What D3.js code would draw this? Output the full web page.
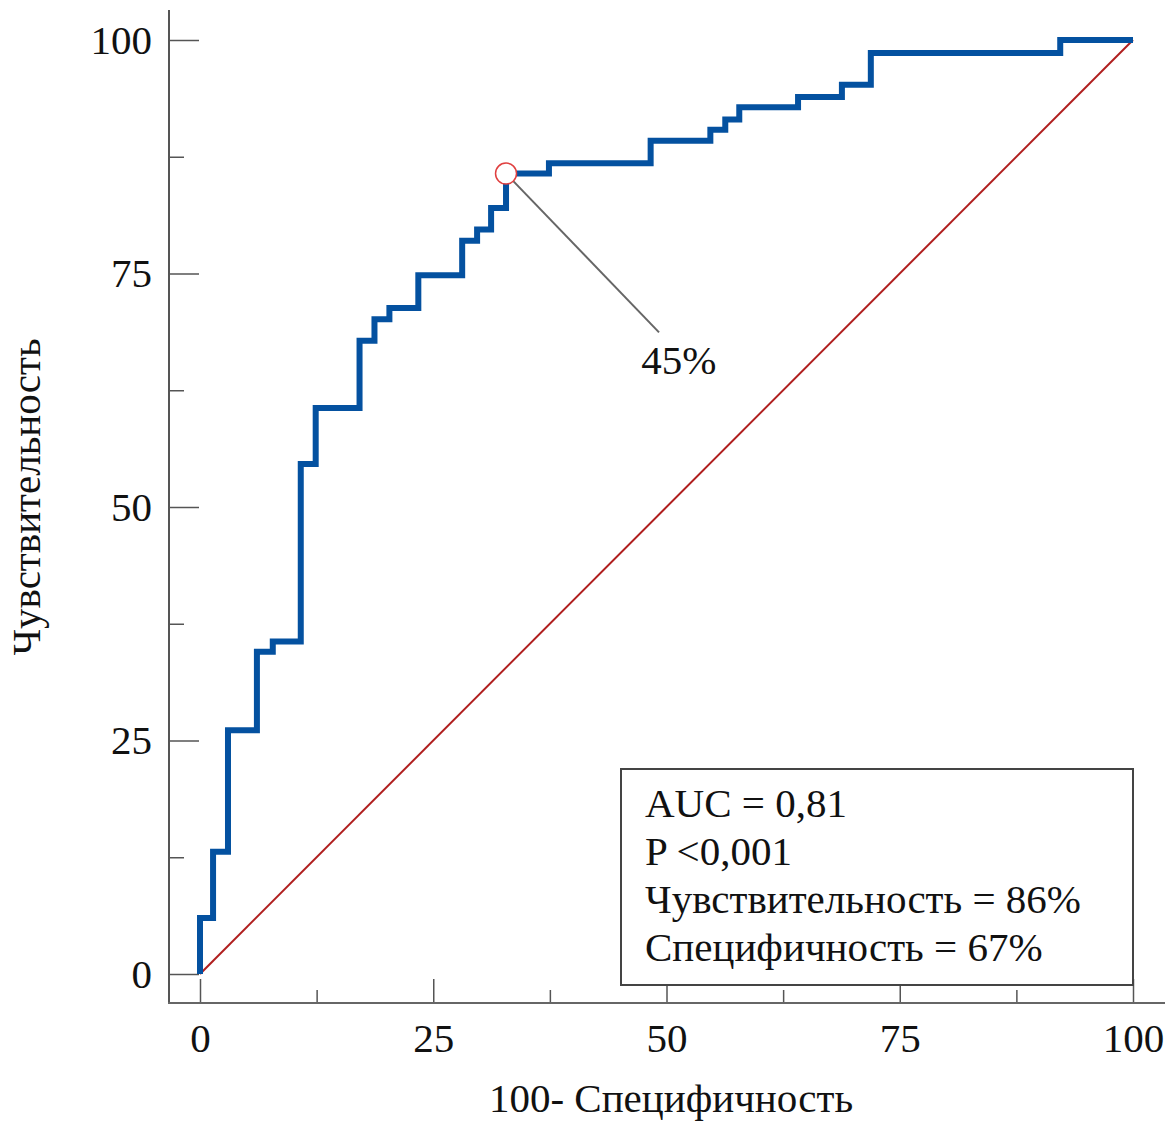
<!DOCTYPE html>
<html>
<head>
<meta charset="utf-8">
<script src="https://cdn.jsdelivr.net/npm/d3@7"></script>
<style>
  body { margin: 0; background: #fff; }
  svg text { font-family: "Liberation Serif", "Times New Roman", serif; fill: #111; }
</style>
</head>
<body>
<svg id="roc"></svg>
<script>
// ROC step curve: at each x (100-specificity) the curve rises to the given sensitivity
const fpr = [0, 0, 1.4, 3.0, 6.1, 7.8, 10.8, 12.4, 17.1, 18.7, 20.3, 23.4, 28.1, 29.7, 31.2, 32.8,
             37.4, 48.3, 54.7, 56.3, 57.8, 64.1, 68.8, 71.9, 92.2, 100];
const tpr = [0, 6.0, 13.1, 26.1, 34.5, 35.6, 54.6, 60.6, 67.8, 70.1, 71.3, 74.8, 78.5, 79.7, 82.0, 85.7,
             86.8, 89.2, 90.4, 91.5, 92.8, 93.9, 95.2, 98.6, 100, 100];

const cutoff = { x: 32.8, y: 85.7, label: '45%' };
const majorTicks = [0, 25, 50, 75, 100];
const minorTicks = [12.5, 37.5, 62.5, 87.5];
const statLines = ['AUC = 0,81', 'P <0,001', 'Чувствительность = 86%', 'Специфичность = 67%'];
const xTitle = '100- Специфичность';
const yTitle = 'Чувствительность';

const width = 1176, height = 1121;
const fontSize = '41px';

const svg = d3.select('#roc')
    .attr('width', width)
    .attr('height', height);

const x = d3.scaleLinear().domain([0, 100]).range([200, 1133]);
const y = d3.scaleLinear().domain([0, 100]).range([974, 40]);

// Offset axis lines
const axisX = 169, axisY = 1003;

// y axis, ticks pointing inward
svg.append('g')
    .attr('transform', `translate(${axisX},0)`)
    .call(d3.axisLeft(y).tickValues(majorTicks).tickSizeInner(-30).tickSizeOuter(0).tickPadding(17))
    .call(g => g.select('.domain').remove())
    .call(g => g.selectAll('text').style('font-size', fontSize).attr('fill', '#111'));

svg.append('g')
    .attr('transform', `translate(${axisX},0)`)
    .call(d3.axisLeft(y).tickValues(minorTicks).tickSizeInner(-15).tickSizeOuter(0).tickFormat(''))
    .call(g => g.select('.domain').remove());

// x axis
svg.append('g')
    .attr('transform', `translate(0,${axisY})`)
    .call(d3.axisBottom(x).tickValues(majorTicks).tickSizeInner(-24).tickSizeOuter(0).tickPadding(20))
    .call(g => g.select('.domain').remove())
    .call(g => g.selectAll('text').style('font-size', fontSize).attr('fill', '#111'));

svg.append('g')
    .attr('transform', `translate(0,${axisY})`)
    .call(d3.axisBottom(x).tickValues(minorTicks).tickSizeInner(-13).tickSizeOuter(0).tickFormat(''))
    .call(g => g.select('.domain').remove());

svg.selectAll('.tick line').attr('stroke', '#555').attr('stroke-width', 1.5);

// axis lines
svg.append('line')
    .attr('x1', axisX).attr('x2', axisX)
    .attr('y1', 10).attr('y2', axisY)
    .attr('stroke', '#555').attr('stroke-width', 2);
svg.append('line')
    .attr('x1', axisX - 1).attr('x2', 1165)
    .attr('y1', axisY).attr('y2', axisY)
    .attr('stroke', '#666').attr('stroke-width', 2);

// axis titles
svg.append('text')
    .attr('x', 671).attr('y', 1112)
    .attr('text-anchor', 'middle')
    .style('font-size', fontSize)
    .text(xTitle);

svg.append('text')
    .attr('transform', 'translate(40,497) rotate(-90)')
    .attr('text-anchor', 'middle')
    .style('font-size', fontSize)
    .text(yTitle);

// reference diagonal
svg.append('line')
    .attr('x1', x(0)).attr('y1', y(0))
    .attr('x2', x(100)).attr('y2', y(100))
    .attr('stroke', '#b01e1e')
    .attr('stroke-width', 2);

// ROC curve
const points = fpr.map((d, i) => [d, tpr[i]]);
const line = d3.line()
    .x(d => x(d[0]))
    .y(d => y(d[1]))
    .curve(d3.curveStepAfter);

svg.append('path')
    .datum(points)
    .attr('d', line)
    .attr('fill', 'none')
    .attr('stroke', '#0451a0')
    .attr('stroke-width', 6)
    .attr('stroke-linejoin', 'miter');

// cut-off annotation
svg.append('line')
    .attr('x1', x(cutoff.x)).attr('y1', y(cutoff.y))
    .attr('x2', x(49.2)).attr('y2', y(68.7))
    .attr('stroke', '#666')
    .attr('stroke-width', 2);

svg.append('circle')
    .attr('cx', x(cutoff.x))
    .attr('cy', y(cutoff.y))
    .attr('r', 10.5)
    .attr('fill', '#fff')
    .attr('stroke', '#e04040')
    .attr('stroke-width', 1.5);

svg.append('text')
    .attr('x', x(47.3)).attr('y', y(64.2))
    .style('font-size', fontSize)
    .text(cutoff.label);

// stats box
svg.append('rect')
    .attr('x', 621).attr('y', 769)
    .attr('width', 512).attr('height', 216)
    .attr('fill', '#fff')
    .attr('stroke', '#444')
    .attr('stroke-width', 2);

svg.append('g')
    .selectAll('text')
    .data(statLines)
    .enter()
    .append('text')
    .attr('x', 645)
    .attr('y', (d, i) => 817 + i * 48)
    .style('font-size', fontSize)
    .text(d => d);
</script>
</body>
</html>
